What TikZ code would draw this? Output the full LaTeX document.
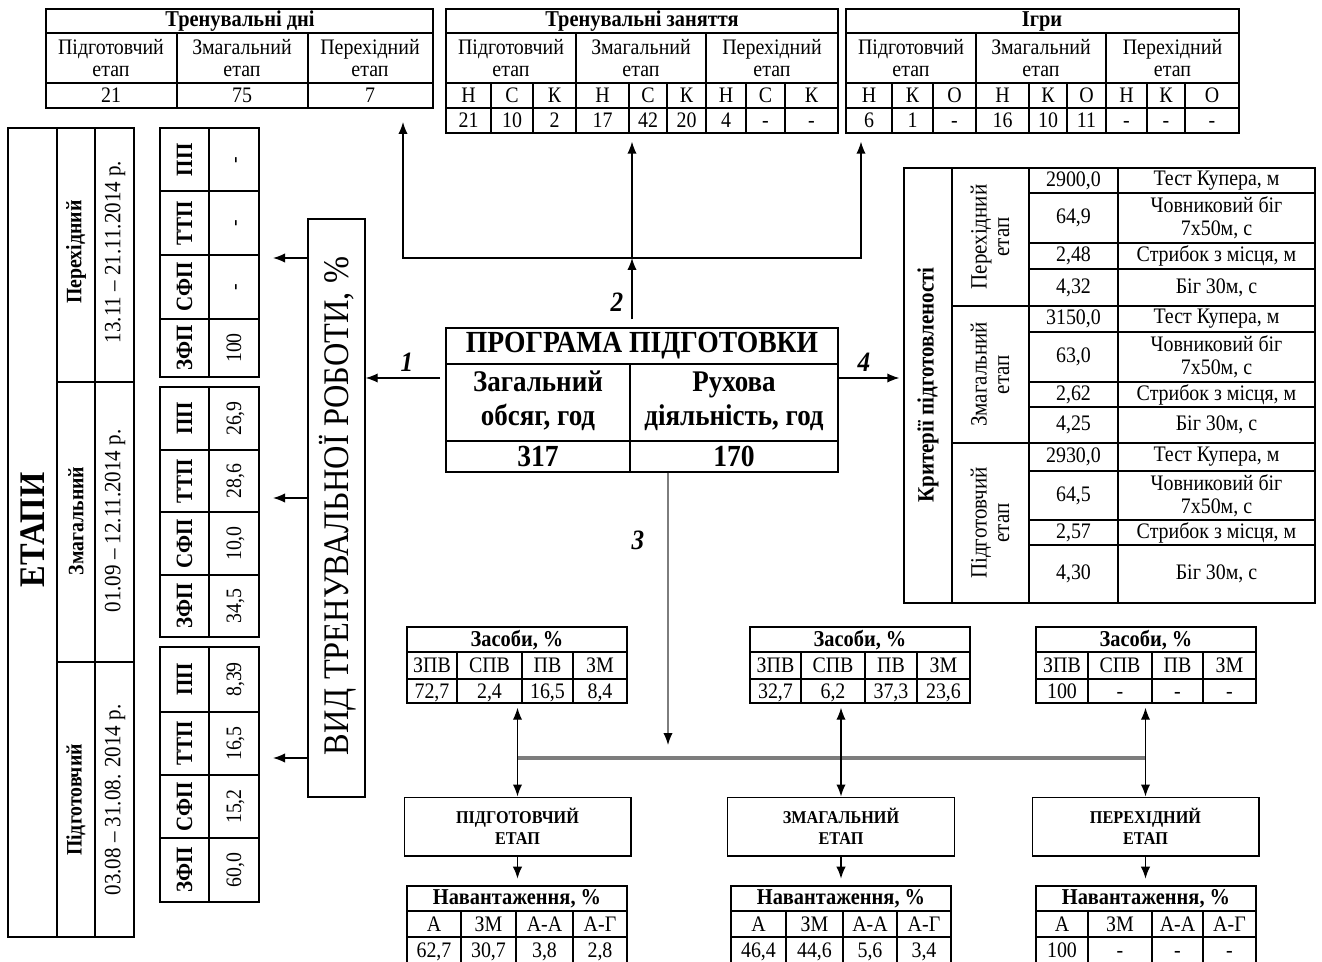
\documentclass[tikz,border=0pt]{standalone}
\usepackage{fontspec}
\setmainfont{Liberation Serif}[FakeStretch=0.9]
\usetikzlibrary{arrows.meta,positioning,fit,calc}
\definecolor{busgray}{RGB}{125,125,125}

\begin{document}
\begin{tikzpicture}[
  x=0.75pt, y=-0.75pt,
  tbl/.style={draw, line width=1pt, inner sep=0pt},
  rule/.style={line width=1pt},
  cell/.style={inner sep=0pt, align=center, font=\fontsize{16.6}{17}\selectfont},
  val/.style={cell, anchor=base},
  head/.style={inner sep=0pt, align=center, font=\bfseries\fontsize{17}{18}\selectfont},
  side/.style={inner sep=0pt, align=center, rotate=90, font=\fontsize{16.5}{16}\selectfont},
  sideval/.style={side, anchor=base},
  sidehead/.style={inner sep=0pt, align=center, rotate=90, font=\bfseries\fontsize{17.5}{18}\selectfont},
  stagebox/.style={draw, line width=1pt, minimum width=170pt, minimum height=44pt,
    align=center, font=\bfseries\fontsize{13.5}{16}\selectfont},
  num/.style={inner sep=0pt, font=\bfseries\itshape\fontsize{21}{21}\selectfont},
  arrow/.style={-{Latex[length=9pt,width=7pt]}, line width=1pt},
  twoway/.style={{Latex[length=9pt,width=7pt]}-{Latex[length=9pt,width=7pt]}, line width=1pt},
  bus/.style={draw=busgray, line width=2.5pt}
]
\useasboundingbox (0,0) rectangle (1322,962);

% top tables
\node[tbl, fit={(46,9) (433,108)}] (days) {};
\draw[rule] (46,33) -- (433,33) (46,83) -- (433,83) (177,33) -- (177,108) (308,33) -- (308,108);
\node[head] (daysT) at (240,21) {Тренувальні дні};
\foreach \x/\s/\v [count=\i] in {111/Підготовчий/21, 242/Змагальний/75, 370/Перехідний/7} {
  \node[cell] (daysS\i) at (\x,58) {\s\\етап};
  \node[val] (daysV\i) at (\x,103) {\v};
}

\node[tbl, fit={(446,9) (838,133)}] (sess) {};
\draw[rule] (446,33) -- (838,33) (446,83) -- (838,83) (446,108) -- (838,108);
\foreach \x in {576,706} \draw[rule] (\x,33) -- (\x,133);
\foreach \x in {491,533,629,667,746,785} \draw[rule] (\x,83) -- (\x,133);
\node[head] (sessT) at (642,21) {Тренувальні заняття};
\foreach \x/\s [count=\i] in {511/Підготовчий, 641/Змагальний, 772/Перехідний}
  \node[cell] (sessS\i) at (\x,58) {\s\\етап};
\foreach \x/\k/\v [count=\i] in {468.5/Н/21, 512/С/10, 554.5/К/2, 602.5/Н/17, 648/С/42,
    686.5/К/20, 726/Н/4, 765.5/С/-, 811.5/К/-} {
  \node[val] (sessK\i) at (\x,102.5) {\k};
  \node[val] (sessV\i) at (\x,127.5) {\v};
}

\node[tbl, fit={(846,9) (1239,133)}] (games) {};
\draw[rule] (846,33) -- (1239,33) (846,83) -- (1239,83) (846,108) -- (1239,108);
\foreach \x in {976,1106} \draw[rule] (\x,33) -- (\x,133);
\foreach \x in {892,933,1029,1067,1147,1185} \draw[rule] (\x,83) -- (\x,133);
\node[head] (gamesT) at (1042,21) {Ігри};
\foreach \x/\s [count=\i] in {911/Підготовчий, 1041/Змагальний, 1172.5/Перехідний}
  \node[cell] (gamesS\i) at (\x,58) {\s\\етап};
\foreach \x/\k/\v [count=\i] in {869/Н/6, 912.5/К/1, 954.5/О/-, 1002.5/Н/16, 1048/К/10,
    1086.5/О/11, 1126.5/Н/-, 1166/К/-, 1212/О/-} {
  \node[val] (gamesK\i) at (\x,102.5) {\k};
  \node[val] (gamesV\i) at (\x,127.5) {\v};
}

% programme
\node[tbl, fit={(446,328) (838,472)}] (prog) {};
\draw[rule] (446,364) -- (838,364) (446,441) -- (838,441) (630,364) -- (630,472);
\node[head, font=\bfseries\fontsize{23}{24}\selectfont] (progT) at (642,346) {ПРОГРАМА ПІДГОТОВКИ};
\node[head, font=\bfseries\fontsize{22.5}{25.5}\selectfont] (progA) at (538,401) {Загальний\\обсяг, год};
\node[head, font=\bfseries\fontsize{22.5}{25.5}\selectfont] (progB) at (734,401) {Рухова\\діяльність, год};
\node[head, font=\bfseries\fontsize{23}{24}\selectfont] (progC) at (538,456.5) {317};
\node[head, font=\bfseries\fontsize{23}{24}\selectfont] (progD) at (734,456.5) {170};

% left side
\node[tbl, fit={(308,219) (365,797)}] (vid) {};
\node[side, font=\fontsize{27}{27}\selectfont] (vidT) at (338,506) {ВИД ТРЕНУВАЛЬНОЇ РОБОТИ, \%};

\node[tbl, fit={(160,128) (259,377)}] (stP) {};
\draw[rule] (209,128) -- (209,377);
\foreach \y in {191,255,319} \draw[rule] (160,\y) -- (259,\y);
\foreach \y/\l/\v [count=\i] in {160/ПП/-, 223/ТТП/-, 287/СФП/-, 348/ЗФП/100} {
  \node[sidehead] (stPl\i) at (184.5,\y) {\l};
  \node[sideval] (stPv\i) at (241,\y) {\v};
}

\node[tbl, fit={(160,387) (259,637)}] (stZ) {};
\draw[rule] (209,387) -- (209,637);
\foreach \y in {450,512,575} \draw[rule] (160,\y) -- (259,\y);
\foreach \y/\l/\v [count=\i] in {418.5/ПП/{26,9}, 481/ТТП/{28,6}, 543.5/СФП/{10,0}, 606/ЗФП/{34,5}} {
  \node[sidehead] (stZl\i) at (184.5,\y) {\l};
  \node[sideval] (stZv\i) at (241,\y) {\v};
}

\node[tbl, fit={(160,647) (259,902)}] (stG) {};
\draw[rule] (209,647) -- (209,902);
\foreach \y in {712,775,838} \draw[rule] (160,\y) -- (259,\y);
\foreach \y/\l/\v [count=\i] in {679.5/ПП/{8,39}, 743.5/ТТП/{16,5}, 806.5/СФП/{15,2}, 870/ЗФП/{60,0}} {
  \node[sidehead] (stGl\i) at (184.5,\y) {\l};
  \node[sideval] (stGv\i) at (241,\y) {\v};
}

\node[tbl, fit={(8,128) (134,937)}] (etapy) {};
\draw[rule] (57,128) -- (57,937) (95,128) -- (95,937) (57,382) -- (134,382) (57,662) -- (134,662);
\node[sidehead, font=\bfseries\fontsize{27}{27}\selectfont] (etapyT) at (33,530) {ЕТАПИ};
\foreach \y/\s/\d [count=\i] in {252/Перехідний/{13.11 – 21.11.2014 р.},
    521/Змагальний/{01.09 – 12.11.2014 р.}, 800/Підготовчий/{03.08 – 31.08. 2014 р.}} {
  \node[sidehead, font=\bfseries\fontsize{16.5}{16}\selectfont] (etapyS\i) at (76,\y) {\s};
  \node[side, font=\fontsize{17.5}{18}\selectfont] (etapyD\i) at (115,\y) {\d};
}

% criteria
\node[tbl, fit={(904,168) (1315,603)}] (crit) {};
\draw[rule] (952,168) -- (952,603) (1029,168) -- (1029,603) (1118,168) -- (1118,603);
\foreach \y in {306,443} \draw[rule] (952,\y) -- (1315,\y);
\foreach \y in {193,243,269,332,382,407,471,520,545} \draw[rule] (1029,\y) -- (1315,\y);
\node[sidehead, font=\bfseries\fontsize{17.5}{17}\selectfont] (critT) at (928,385) {Критерії підготовленості};
\foreach \y/\s [count=\i] in {237/Перехідний, 374.5/Змагальний, 523/Підготовчий}
  \node[side, font=\fontsize{17.5}{17}\selectfont] (critS\i) at (990,\y) {\s\\етап};
\foreach \y/\v/\t [count=\i] in {
    180.5/{2900,0}/{Тест Купера, м}, 218/{64,9}/{Човниковий біг\\7х50м, с},
    256/{2,48}/{Стрибок з місця, м}, 287.5/{4,32}/{Біг 30м, с},
    319/{3150,0}/{Тест Купера, м}, 357/{63,0}/{Човниковий біг\\7х50м, с},
    394.5/{2,62}/{Стрибок з місця, м}, 425/{4,25}/{Біг 30м, с},
    457/{2930,0}/{Тест Купера, м}, 495.5/{64,5}/{Човниковий біг\\7х50м, с},
    532.5/{2,57}/{Стрибок з місця, м}, 574/{4,30}/{Біг 30м, с}} {
  \node[cell] (critV\i) at (1073.5,\y) {\v};
  \node[cell] (critN\i) at (1216.5,\y) {\t};
}

% means
\node[tbl, fit={(407,627) (627,703)}] (zas1) {};
\draw[rule] (407,652) -- (627,652) (407,679) -- (627,679);
\foreach \x in {457,522,573} \draw[rule] (\x,652) -- (\x,703);
\node[head] (zas1T) at (517,640) {Засоби, \%};
\foreach \x/\k/\v [count=\i] in {432/ЗПВ/{72,7}, 489.5/СПВ/{2,4}, 547.5/ПВ/{16,5}, 600/ЗМ/{8,4}} {
  \node[val] (zas1K\i) at (\x,672.5) {\k};
  \node[val] (zas1V\i) at (\x,698) {\v};
}

\node[tbl, fit={(750,627) (970,703)}] (zas2) {};
\draw[rule] (750,652) -- (970,652) (750,679) -- (970,679);
\foreach \x in {801,865,917} \draw[rule] (\x,652) -- (\x,703);
\node[head] (zas2T) at (860,640) {Засоби, \%};
\foreach \x/\k/\v [count=\i] in {775.5/ЗПВ/{32,7}, 833/СПВ/{6,2}, 891/ПВ/{37,3}, 943.5/ЗМ/{23,6}} {
  \node[val] (zas2K\i) at (\x,672.5) {\k};
  \node[val] (zas2V\i) at (\x,698) {\v};
}

\node[tbl, fit={(1036,627) (1256,703)}] (zas3) {};
\draw[rule] (1036,652) -- (1256,652) (1036,679) -- (1256,679);
\foreach \x in {1088,1152,1203} \draw[rule] (\x,652) -- (\x,703);
\node[head] (zas3T) at (1146,640) {Засоби, \%};
\foreach \x/\k/\v [count=\i] in {1062/ЗПВ/100, 1120/СПВ/-, 1177.5/ПВ/-, 1229.5/ЗМ/-} {
  \node[val] (zas3K\i) at (\x,672.5) {\k};
  \node[val] (zas3V\i) at (\x,698) {\v};
}

% stages
\node[stagebox] (etap1) at (517.5,826.5) {ПІДГОТОВЧИЙ\\ЕТАП};
\node[stagebox] (etap2) at (841,826.5) {ЗМАГАЛЬНИЙ\\ЕТАП};
\node[stagebox] (etap3) at (1145.5,826.5) {ПЕРЕХІДНИЙ\\ЕТАП};

% loads
\node[tbl, fit={(407,886) (627,965)}] (nav1) {};
\draw[rule] (407,911) -- (627,911) (407,937) -- (627,937);
\foreach \x in {461,516,573} \draw[rule] (\x,911) -- (\x,965);
\node[head] (nav1T) at (517,898.5) {Навантаження, \%};
\foreach \x/\k/\v [count=\i] in {434/А/{62,7}, 488.5/ЗМ/{30,7}, 544.5/А-А/{3,8}, 600/А-Г/{2,8}} {
  \node[val] (nav1K\i) at (\x,931) {\k};
  \node[val] (nav1V\i) at (\x,957) {\v};
}

\node[tbl, fit={(731,886) (951,965)}] (nav2) {};
\draw[rule] (731,911) -- (951,911) (731,937) -- (951,937);
\foreach \x in {786,843,897} \draw[rule] (\x,911) -- (\x,965);
\node[head] (nav2T) at (841,898.5) {Навантаження, \%};
\foreach \x/\k/\v [count=\i] in {758.5/А/{46,4}, 814.5/ЗМ/{44,6}, 870/А-А/{5,6}, 924/А-Г/{3,4}} {
  \node[val] (nav2K\i) at (\x,931) {\k};
  \node[val] (nav2V\i) at (\x,957) {\v};
}

\node[tbl, fit={(1036,886) (1256,965)}] (nav3) {};
\draw[rule] (1036,911) -- (1256,911) (1036,937) -- (1256,937);
\foreach \x in {1088,1152,1203} \draw[rule] (\x,911) -- (\x,965);
\node[head] (nav3T) at (1146,898.5) {Навантаження, \%};
\foreach \x/\k/\v [count=\i] in {1062/А/100, 1120/ЗМ/-, 1177.5/А-А/-, 1229.5/А-Г/-} {
  \node[val] (nav3K\i) at (\x,931) {\k};
  \node[val] (nav3V\i) at (\x,957) {\v};
}

% connectors
\coordinate (j1) at (403,258);
\coordinate (j2) at (632,258);
\coordinate (j3) at (861,258);
\coordinate (lv) at (640,378);
\coordinate (b3) at (668,745);
\coordinate (bus) at (841,758);

\draw[arrow, shorten <=6pt] (prog.north -| j2) -- (j2);
\draw[arrow, shorten >=10pt] (j2) -- (j1) -- (days.south -| j1);
\draw[arrow, shorten >=6pt] (j2) -- (sess.south -| j2);
\draw[arrow, shorten >=6pt] (j2) -- (j3) -- (games.south -| j3);
\node[num] (n2) at (617,302) {2};

\draw[arrow, shorten <=4pt] (prog.west |- lv) -- (vid.east |- lv);
\node[num] (n1) at (407,362) {1};
\draw[arrow, shorten >=3pt] (prog.east |- lv) -- (crit.west |- lv);
\node[num] (n4) at (864,362) {4};

\foreach \t/\y in {stP/258, stZ/498, stG/758}
  \draw[arrow, shorten >=10pt] (vid.west |- 0,\y) -- (\t.east |- 0,\y);

\draw[arrow, draw=busgray, -{Latex[length=9pt,width=7pt,color=black]}] (prog.south -| b3) -- (b3);
\node[num] (n3) at (638,540) {3};

\draw[bus] (etap1.north |- bus) -- (etap3.north |- bus);
\foreach \n in {1,2,3} {
  \draw[twoway, shorten <=3pt] (etap\n.north |- zas\n.south) -- (etap\n.north);
  \draw[arrow, shorten >=5pt] (etap\n.south) -- (etap\n.south |- nav\n.north);
}
\end{tikzpicture}
\end{document}
